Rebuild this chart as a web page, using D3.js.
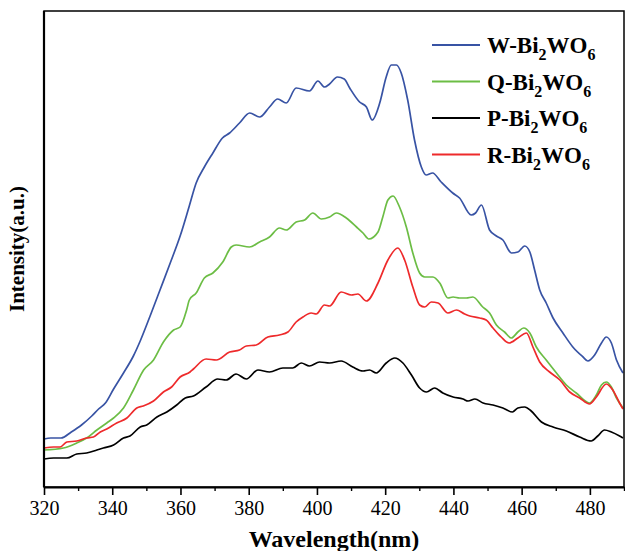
<!DOCTYPE html>
<html>
<head>
<meta charset="utf-8">
<script src="https://cdn.jsdelivr.net/npm/d3@7"></script>
<style>
  body { margin: 0; background: #fff; }
  text { font-family: "Liberation Serif", "Times New Roman", serif; }
</style>
</head>
<body>
<div id="chart"></div>
<script>
// wavelength (nm) and intensity (a.u.)
var wlW = [320, 322, 325, 328, 331, 334, 336, 338, 340.4, 343.3, 346.2, 348.2, 351.1, 354, 357, 360, 362.5, 364.6, 367, 369.5, 372.3, 374.4, 377.3, 380.3, 383.2, 386.1, 388.5, 391, 393.9, 397.8, 400.3, 402.2, 403.7, 406, 408, 409.6, 412.5, 414.5, 416.2, 418.4, 420.3, 421.8, 423.3, 424.7, 426.6, 428.6, 430.6, 432, 433.9, 436.4, 439.8, 441.8, 445.2, 446.5, 448.2, 450.6, 452.6, 454.5, 457, 458.9, 460.9, 462.4, 463.8, 465.3, 467.2, 469.2, 472.1, 475, 478, 479.4, 481.4, 483.4, 484.8, 486.3, 487.8, 489.7];
var W = [48, 49, 49, 55, 62, 71, 78, 84, 98, 114, 131, 146, 171, 197, 224, 252, 280, 304, 320, 334, 349, 354, 364, 374, 370, 380, 388, 384, 399, 396, 406, 400, 403, 410, 408, 399, 385, 380, 367, 384, 410, 422, 422, 414, 387, 347, 320, 312, 314, 305, 294, 289, 272, 274, 282, 257, 251, 247, 234, 235, 241, 235, 217, 197, 184, 169, 154, 140, 130, 126, 132, 144, 150, 144, 127, 114];

var wlQ = [320, 325.7, 329.6, 332.5, 335.5, 338.4, 340.4, 343.3, 346.2, 349.2, 352.1, 355, 358, 359.9, 361.8, 362.6, 364.6, 367, 369.5, 372.4, 374.9, 376.3, 380.2, 383.2, 386.1, 389, 391, 393.9, 396.4, 398.8, 401.3, 403.7, 405.7, 408.6, 411.6, 413.5, 415.2, 417.9, 419.3, 420.8, 422.3, 424.2, 426.2, 428.1, 430.1, 431.6, 434, 436, 438.4, 439.9, 441.8, 443.8, 445.7, 448.6, 450.6, 452.6, 455, 457, 458.9, 460.6, 462.4, 464.3, 467.2, 470.2, 473.1, 476, 479.9, 481.9, 483.4, 484.8, 486.3, 487.8, 489.7];
var Q = [37, 39, 44, 49, 57, 64, 69, 79, 97, 117, 127, 145, 157, 160, 177, 187, 194, 209, 214, 225, 240, 242, 240, 245, 250, 259, 257, 265, 267, 274, 268, 270, 274, 269, 260, 254, 248, 255, 270, 287, 291, 280, 260, 234, 214, 210, 210, 204, 189, 190, 189, 189, 190, 180, 174, 162, 155, 149, 155, 159, 154, 140, 127, 114, 102, 94, 84, 92, 102, 105, 100, 89, 79];

var wlP = [320, 322.8, 326.7, 329.6, 332.5, 335.5, 337.4, 340.4, 343.3, 345.2, 348.2, 350.1, 353.1, 356, 358.9, 361.4, 363.8, 367.5, 370.9, 373.4, 376.3, 379.3, 382.7, 386.1, 390, 392.9, 395.4, 397.8, 400.8, 403.7, 407.1, 410.5, 413.5, 415.4, 417.4, 420.3, 422.8, 425.2, 427.7, 430.1, 432.1, 434.5, 436.9, 439.9, 442.8, 444.3, 446.3, 448.7, 451.6, 454.5, 457.3, 458.9, 460.9, 462.8, 465.8, 469.2, 473.1, 477, 480.4, 482.3, 484.3, 486.3, 488.7, 489.7];
var P = [28, 29, 29, 33, 34, 37, 39, 42, 49, 51, 60, 62, 70, 75, 82, 89, 91, 100, 108, 107, 113, 108, 117, 115, 119, 119, 124, 121, 125, 124, 126, 120, 116, 117, 114, 124, 129, 124, 112, 99, 95, 99, 94, 90, 88, 86, 88, 84, 82, 79, 75, 79, 80, 76, 65, 60, 56, 50, 46, 51, 57, 55, 51, 49];

var wlR = [320, 322.8, 324.7, 326.7, 329.6, 332.5, 334.5, 336.5, 338.4, 341.3, 344.3, 347.2, 349.1, 352.1, 355, 357.4, 359.9, 362.8, 363.8, 367.5, 370.5, 374.4, 377.3, 379.3, 382.2, 385.6, 389, 391.5, 393.9, 395.9, 398.3, 399.8, 402.2, 403.7, 407.1, 410.1, 412, 414.5, 417.9, 420.8, 423.7, 425.7, 428.1, 430.1, 431.6, 433.5, 435.5, 438.4, 440.9, 443.3, 444.8, 447.7, 449.6, 451.6, 454, 456.3, 458.9, 461.4, 463.3, 465.3, 468.2, 471.2, 474.1, 477, 479.9, 481.9, 484.8, 486.7, 488.7, 489.7];
var R = [39, 40, 40, 45, 46, 49, 50, 55, 58, 64, 69, 79, 81, 86, 95, 100, 110, 115, 118, 128, 127, 135, 137, 141, 142, 150, 152, 155, 165, 170, 174, 173, 182, 181, 195, 192, 193, 186, 204, 227, 239, 227, 200, 182, 180, 185, 184, 174, 177, 173, 171, 169, 167, 159, 150, 144, 149, 154, 140, 125, 115, 107, 95, 89, 83, 90, 103, 97, 84, 78];

var names = ['W', 'Q', 'P', 'R'];
var colors = ['#3853a4', '#6cbd45', '#000000', '#ee2a2b'];
var xTicks = [320, 340, 360, 380, 400, 420, 440, 460, 480];

var width = 625, height = 551;
var margin = { top: 11, right: 1, bottom: 64, left: 44 };

var svg = d3.select('#chart').append('svg')
    .attr('width', width)
    .attr('height', height);

var x = d3.scaleLinear().domain([320, 490]).range([margin.left, width - margin.right]);
var y = d3.scaleLinear().domain([0, 476]).range([height - margin.bottom, margin.top]);

var series = [
    { name: 'W', wl: wlW, v: W },
    { name: 'Q', wl: wlQ, v: Q },
    { name: 'P', wl: wlP, v: P },
    { name: 'R', wl: wlR, v: R }
];

var line = d3.line()
    .x(function (d) { return x(d[0]); })
    .y(function (d) { return y(d[1]); })
    .curve(d3.curveMonotoneX);

svg.append('defs').append('clipPath').attr('id', 'clip')
    .append('rect')
    .attr('x', margin.left).attr('y', margin.top)
    .attr('width', width - margin.left - margin.right)
    .attr('height', height - margin.top - margin.bottom);

svg.append('g').attr('clip-path', 'url(#clip)')
    .selectAll('path.spec')
    .data(series)
    .enter().append('path')
    .attr('class', 'spec')
    .attr('fill', 'none')
    .attr('stroke', function (d, i) { return colors[i]; })
    .attr('stroke-width', 1.7)
    .attr('d', function (d) { return line(d.wl.map(function (w, i) { return [w, d.v[i]]; })); });

/* --------- FRAME & AXES ---------*/
svg.append('rect')
    .attr('x', margin.left).attr('y', margin.top)
    .attr('width', width - margin.left - margin.right)
    .attr('height', height - margin.top - margin.bottom)
    .attr('fill', 'none')
    .attr('stroke', '#000')
    .attr('stroke-width', 1.5);

var xAxis = svg.append('g')
    .attr('transform', 'translate(0,' + (height - margin.bottom) + ')')
    .call(d3.axisBottom(x).tickValues(xTicks).tickSize(8).tickSizeOuter(0).tickPadding(6).tickFormat(d3.format('d')));
xAxis.select('.domain').attr('stroke-width', 2.2);
xAxis.selectAll('.tick line').attr('stroke-width', 1.6);
xAxis.selectAll('.tick text').attr('font-size', 20).attr('font-family', '"Liberation Serif", serif').attr('fill', '#000');

svg.append('g')
    .attr('transform', 'translate(0,' + (height - margin.bottom) + ')')
    .call(d3.axisBottom(x).tickValues(d3.range(330, 491, 20)).tickSize(4).tickFormat(''))
    .call(function (g) { g.select('.domain').remove(); })
    .selectAll('.tick line').attr('stroke-width', 1.4);

svg.append('line')
    .attr('x1', margin.left).attr('x2', margin.left)
    .attr('y1', margin.top).attr('y2', height - margin.bottom)
    .attr('stroke', '#000').attr('stroke-width', 2.2);

svg.append('text')
    .attr('x', (margin.left + width - margin.right) / 2)
    .attr('y', 547)
    .attr('text-anchor', 'middle')
    .attr('font-size', 24)
    .attr('font-weight', 'bold')
    .text('Wavelength(nm)');

svg.append('text')
    .attr('transform', 'translate(24,' + ((margin.top + height - margin.bottom) / 2) + ') rotate(-90)')
    .attr('text-anchor', 'middle')
    .attr('font-size', 21)
    .attr('font-weight', 'bold')
    .text('Intensity(a.u.)');

/* --------- LEGEND ---------*/
var legend = svg.append('g').selectAll('g.leg')
    .data(names)
    .enter().append('g')
    .attr('class', 'leg')
    .attr('transform', function (d, i) { return 'translate(432,' + (45 + i * 36.5) + ')'; });

legend.append('line')
    .attr('x1', 0).attr('x2', 48)
    .attr('stroke', function (d, i) { return colors[i]; })
    .attr('stroke-width', 1.8);

var lt = legend.append('text')
    .attr('x', 55).attr('y', 8)
    .attr('font-size', 23)
    .attr('font-weight', 'bold');
lt.append('tspan').text(function (d) { return d + '-Bi'; });
lt.append('tspan').attr('font-size', 16).attr('dy', 7).text('2');
lt.append('tspan').attr('dy', -7).text('WO');
lt.append('tspan').attr('font-size', 16).attr('dy', 7).text('6');
</script>
</body>
</html>
